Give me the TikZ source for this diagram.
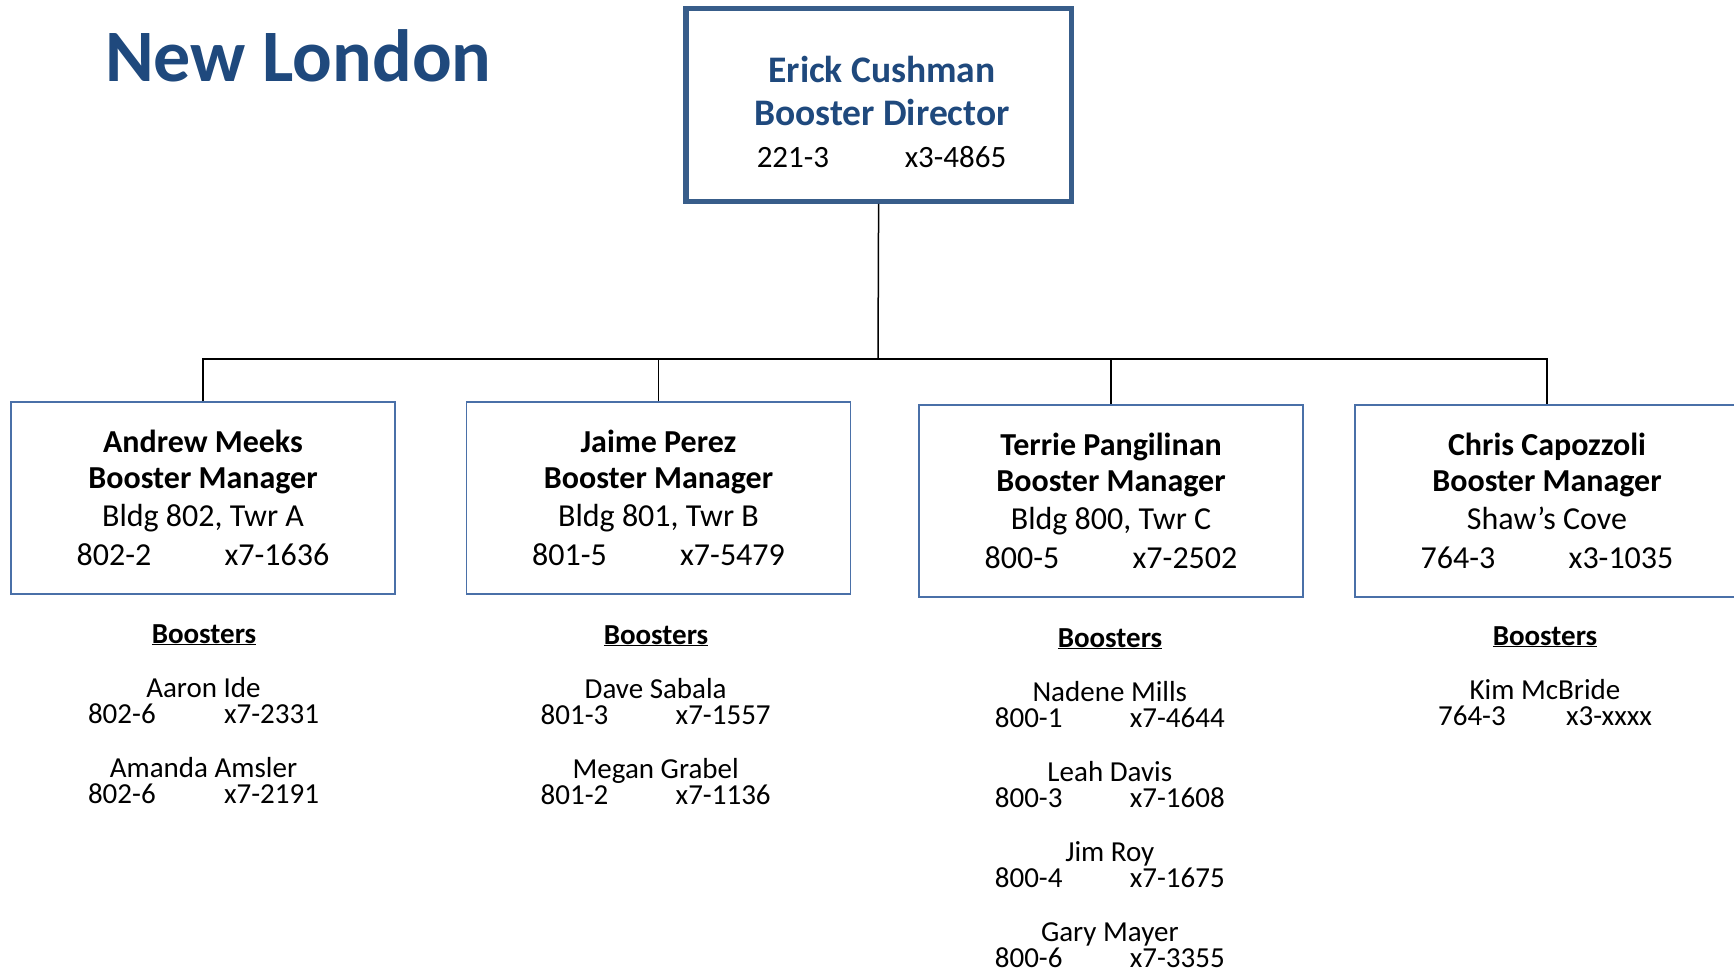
\documentclass[tikz,border=0pt]{standalone}
\usepackage{fontspec}
\setmainfont{Carlito}
\definecolor{navy}{HTML}{1F497D}
\definecolor{dirline}{HTML}{385D8A}
\definecolor{mgrline}{HTML}{4A70A8}
\tikzset{
  titletxt/.style={font=\fontsize{74}{80}\selectfont\bfseries, text=navy, anchor=base west, inner sep=0},
  dirbox/.style={draw=dirline, line width=4.3pt, minimum width=386pt, minimum height=194pt, inner sep=0},
  dirinner/.style={draw=dirline, line width=1.3pt},
  dirname/.style={font=\fontsize{37.5}{42}\selectfont\bfseries, text=navy, anchor=base, inner sep=0},
  dirtxt/.style={font=\fontsize{31}{36}\selectfont, anchor=base, inner sep=0},
  mgr/.style={draw=mgrline, line width=1.3pt, minimum width=384pt, minimum height=192pt, inner sep=0},
  mgrname/.style={font=\fontsize{32}{36}\selectfont\bfseries, anchor=base, inner sep=0},
  mgrtxt/.style={font=\fontsize{32}{36}\selectfont, anchor=base, inner sep=0},
  bhead/.style={font=\fontsize{29}{30}\selectfont\bfseries, anchor=base, inner sep=0},
  btxt/.style={font=\fontsize{29}{30}\selectfont, anchor=base, inner sep=0},
  link/.style={draw=black, line width=1.5pt}
}
\newcommand{\mgrbox}[7]{%
  \node[mgr] (#1) at (#2,#3+96) {};
  \node[mgrname] (#1-name) at (#2,#3+50) {#4};
  \node[mgrname] (#1-role) at (#2,#3+86) {Booster Manager};
  \node[mgrtxt] (#1-loc) at (#2,#3+124) {#5};
  \node[mgrtxt] (#1-num) at (#2,#3+163) {\makebox[148pt][l]{#6}#7};
}
\newcommand{\bhd}[3]{%
  \node[bhead] (#1) at (#2,#3) {\underline{Boosters}};
}
% id, cx, baseline, name, left, right, tab width
\newcommand{\bentry}[7]{%
  \node[btxt] (#1-n) at (#2,#3) {#4};
  \node[btxt] (#1-p) at (#2,#3+26) {\makebox[#7pt][l]{#5}#6};
}
\begin{document}
\begin{tikzpicture}[x=1pt,y=-1pt]
\useasboundingbox[fill=white] (0,0) rectangle (1734,970);

\node[titletxt] (title) at (105,81) {New London};

% director
\node[dirbox] (dir) at (878.6,104.8) {};
\draw[dirinner] ([shift={(4.6pt,-4.6pt)}]dir.north west) rectangle ([shift={(-4.6pt,4.6pt)}]dir.south east);
\node[dirname] (dir-name) at (882,82) {Erick Cushman};
\node[dirname] (dir-role) at (882,125) {Booster Director};
\node[dirtxt] (dir-num) at (881.5,167) {\makebox[148pt][l]{221-3}x3-4865};

% managers
\mgrbox{m1}{203}{402}{Andrew Meeks}{Bldg 802, Twr A}{802-2}{x7-1636}
\mgrbox{m2}{658.5}{402}{Jaime Perez}{Bldg 801, Twr B}{801-5}{x7-5479}
\mgrbox{m3}{1111}{405}{Terrie Pangilinan}{Bldg 800, Twr C}{800-5}{x7-2502}
\mgrbox{m4}{1547}{405}{Chris Capozzoli}{Shaw’s Cove}{764-3}{x3-1035}

% connectors
\coordinate (bar) at (878,359);
\draw[link] (dir.south) -- (bar);
\draw[link] (m1.north) |- (m4.north |- bar) -- (m4.north);
\draw[link] (m2.north) -- (m2.north |- bar);
\draw[link] (m3.north) -- (m3.north |- bar);

% boosters column 1
\bhd{b1}{204}{643}
\bentry{b1a}{203.5}{697}{Aaron Ide}{802-6}{x7-2331}{136}
\bentry{b1b}{203.5}{777}{Amanda Amsler}{802-6}{x7-2191}{136}

% column 2
\bhd{b2}{656}{644}
\bentry{b2a}{655.7}{698}{Dave Sabala}{801-3}{x7-1557}{135}
\bentry{b2b}{655.7}{778}{Megan Grabel}{801-2}{x7-1136}{135}

% column 3
\bhd{b3}{1110}{647}
\bentry{b3a}{1109.8}{701}{Nadene Mills}{800-1}{x7-4644}{135}
\bentry{b3b}{1109.8}{781}{Leah Davis}{800-3}{x7-1608}{135}
\bentry{b3c}{1109.8}{861}{Jim Roy}{800-4}{x7-1675}{135}
\bentry{b3d}{1109.8}{941}{Gary Mayer}{800-6}{x7-3355}{135}

% column 4
\bhd{b4}{1545}{645}
\bentry{b4a}{1545}{699}{Kim McBride}{764-3}{x3-xxxx}{128}
\end{tikzpicture}
\end{document}
